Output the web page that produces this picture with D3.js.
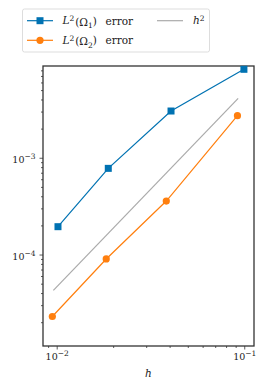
<!DOCTYPE html>
<html>
<head>
<meta charset="utf-8">
<script src="https://cdn.jsdelivr.net/npm/d3@7"></script>
<style>
  body { margin: 0; background: #fff; }
  svg text { font-family: "DejaVu Serif", "Liberation Serif", serif; fill: #222; }
</style>
</head>
<body>
<div id="chart"></div>
<script>
// mesh sizes and errors
var hBlue = [0.01016, 0.01884, 0.0407, 0.0996]
var errBlue = [1.94e-4, 7.77e-4, 3.04e-3, 8.2e-3]
var hOrange = [0.00948, 0.01837, 0.0384, 0.092]
var errOrange = [2.29e-5, 9.0e-5, 3.57e-4, 2.72e-3]
var hRef = [0.0096, 0.0928]
var errRef = [4.27e-5, 4.11e-3]
var xMajor = [1e-2, 1e-1]
var yMajor = [1e-4, 1e-3]

var blue = '#0072b2', orange = '#ff7f0e', grey = '#aaaaaa'

var W = 266, H = 391
var m = {left: 43, right: 12, top: 66, bottom: 45}
var w = W - m.left - m.right, h = H - m.top - m.bottom

var svg = d3.select('#chart').append('svg').attr('width', W).attr('height', H)
var g = svg.append('g').attr('transform', 'translate(' + m.left + ',' + m.top + ')')

var x = d3.scaleLog().domain([Math.pow(10, -2.073), Math.pow(10, -0.948)]).range([0, w])
var y = d3.scaleLog().domain([Math.pow(10, -4.945), Math.pow(10, -2.052)]).range([h, 0])

function minors(sc) {
  var d = sc.domain(), out = []
  for (var k = -6; k <= 0; k++) for (var i = 2; i <= 9; i++) {
    var v = i * Math.pow(10, k)
    if (v >= d[0] && v <= d[1]) out.push(v)
  }
  return out
}

function expLabel(sel) {
  sel.each(function(d) {
    var t = d3.select(this).text('')
    t.append('tspan').text('10')
    t.append('tspan').attr('dy', '-0.5em').attr('font-size', '7.5px').text('\u2212' + Math.round(-Math.log10(d)))
  })
}

// minor ticks
var gx = g.append('g').attr('transform', 'translate(0,' + h + ')')
gx.call(d3.axisBottom(x).tickValues(minors(x)).tickSize(2).tickFormat(''))
gx.append('g').call(d3.axisBottom(x).tickValues(xMajor).tickSize(3.5).tickPadding(4))
  .selectAll('text').attr('font-size', '9.5px').call(expLabel)
var gy = g.append('g')
gy.call(d3.axisLeft(y).tickValues(minors(y)).tickSize(2).tickFormat(''))
gy.append('g').call(d3.axisLeft(y).tickValues(yMajor).tickSize(3.5).tickPadding(4))
  .selectAll('text').attr('font-size', '9.5px').attr('dy', '0.5em').call(expLabel)
g.selectAll('.domain').remove()
g.selectAll('.tick line').attr('stroke', '#333').attr('stroke-width', 0.8)
g.selectAll('.tick text').style('font-family', '"DejaVu Serif", serif').attr('fill', '#222')

g.append('rect').attr('width', w).attr('height', h)
  .attr('fill', 'none').attr('stroke', '#333').attr('stroke-width', 1.3)

var line = d3.line().x(function(d) { return x(d[0]) }).y(function(d) { return y(d[1]) })

g.append('path').datum(d3.zip(hRef, errRef)).attr('d', line)
  .attr('fill', 'none').attr('stroke', grey).attr('stroke-width', 1.2)

var blueData = d3.zip(hBlue, errBlue)
g.append('path').datum(blueData).attr('d', line)
  .attr('fill', 'none').attr('stroke', blue).attr('stroke-width', 1.2)
g.selectAll('rect.pt').data(blueData).enter().append('rect').attr('class', 'pt')
  .attr('x', function(d) { return x(d[0]) - 3.5 }).attr('y', function(d) { return y(d[1]) - 3.5 })
  .attr('width', 7).attr('height', 7).attr('fill', blue)

var orData = d3.zip(hOrange, errOrange)
g.append('path').datum(orData).attr('d', line)
  .attr('fill', 'none').attr('stroke', orange).attr('stroke-width', 1.2)
g.selectAll('circle.pt').data(orData).enter().append('circle').attr('class', 'pt')
  .attr('cx', function(d) { return x(d[0]) }).attr('cy', function(d) { return y(d[1]) })
  .attr('r', 3.6).attr('fill', orange)

// x label
svg.append('text').attr('x', m.left + w / 2).attr('y', 377).attr('text-anchor', 'middle')
  .attr('font-size', '10.5px').attr('font-style', 'italic').text('h')

// legend
var lg = svg.append('g')
lg.append('rect').attr('x', 22.5).attr('y', 9).attr('width', 187).attr('height', 43).attr('rx', 2)
  .attr('fill', '#fff').attr('stroke', '#ddd').attr('stroke-width', 1)

function errLabel(t, sub) {
  t.append('tspan').attr('font-style', 'italic').text('L')
  t.append('tspan').attr('dy', '-0.45em').attr('font-size', '7.5px').text('2')
  t.append('tspan').attr('dy', '0.45em').attr('dx', 1).text('(\u03A9')
  t.append('tspan').attr('dy', '0.3em').attr('font-size', '7.5px').text(sub)
  t.append('tspan').attr('dy', '-0.3em').text(')')
  t.append('tspan').attr('x', 105.5).text('error')
}

lg.append('line').attr('x1', 27).attr('x2', 53).attr('y1', 20.7).attr('y2', 20.7).attr('stroke', blue).attr('stroke-width', 1.2)
lg.append('rect').attr('x', 36.5).attr('y', 17.2).attr('width', 7).attr('height', 7).attr('fill', blue)
errLabel(lg.append('text').attr('x', 62.5).attr('y', 24.3).attr('font-size', '10.5px'), '1')

lg.append('line').attr('x1', 27).attr('x2', 53).attr('y1', 40.3).attr('y2', 40.3).attr('stroke', orange).attr('stroke-width', 1.2)
lg.append('circle').attr('cx', 40).attr('cy', 40.3).attr('r', 3.6).attr('fill', orange)
errLabel(lg.append('text').attr('x', 62.5).attr('y', 43.9).attr('font-size', '10.5px'), '2')

lg.append('line').attr('x1', 157).attr('x2', 183).attr('y1', 20.7).attr('y2', 20.7).attr('stroke', grey).attr('stroke-width', 1.2)
var ht = lg.append('text').attr('x', 193).attr('y', 24.3).attr('font-size', '10.5px')
ht.append('tspan').attr('font-style', 'italic').text('h')
ht.append('tspan').attr('dy', '-0.45em').attr('font-size', '7.5px').text('2')
</script>
</body>
</html>
